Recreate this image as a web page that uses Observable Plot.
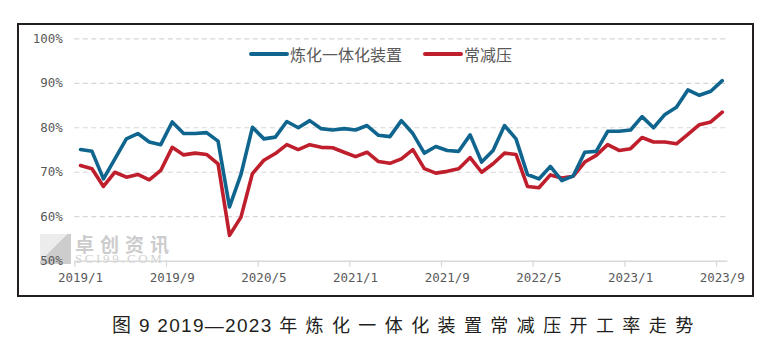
<!DOCTYPE html>
<html>
<head>
<meta charset="utf-8">
<script src="https://cdn.jsdelivr.net/npm/d3@7"></script>
<script src="https://cdn.jsdelivr.net/npm/@observablehq/plot@0.6"></script>
<style>
  body { margin: 0; background: #fff; }
  #wrap { position: relative; width: 767px; height: 355px; overflow: hidden; background:#fff; }
  #chart { position: absolute; left: 0; top: 0; }
  #frame { position: absolute; left: 17px; top: 23px; width: 737px; height: 274px; box-sizing: border-box; border: 2px solid #231f20; pointer-events: none; }
  #legend { position: absolute; top: 45px; left: 249px; display: flex; align-items: center; font-family: "Noto Sans CJK SC", sans-serif; font-size: 16px; color: #595959; line-height: 18px; }
  #legend .sw { display: inline-block; width: 40px; height: 4px; border-radius: 2px; margin-right: 1px; }
  #legend .item { display: flex; align-items: center; margin-right: 21px; }
  #wm { position: absolute; left: 40px; top: 232px; opacity: 0.75; pointer-events: none; }
  #wm .logo { position: absolute; left: 0; top: 2px; width: 31px; height: 30px; background: linear-gradient(135deg, #e6e6e6 0 45%, #bdbdbd 45% 100%); }
  #wm .cn { position: absolute; left: 35px; top: -2px; font-family: "Noto Sans CJK SC", sans-serif; font-weight: 700; font-size: 19px; letter-spacing: 6px; color: #bcbcbc; white-space: nowrap; }
  #wm .en { position: absolute; left: 35px; top: 19px; font-family: "Liberation Serif", serif; font-size: 13px; letter-spacing: 2.6px; color: #c4c4c4; white-space: nowrap; }
  #caption { position: absolute; left: 112px; top: 312px; font-family: "Liberation Sans", "Noto Sans CJK SC", sans-serif; font-size: 19px; color: #231f20; white-space: nowrap; line-height: 24px; }
  #caption .pre { letter-spacing: 1.3px; }
  #caption .cjk { letter-spacing: 8.4px; font-family: "Noto Sans CJK SC", sans-serif; font-size: 18px; }
</style>
</head>
<body>
<div id="wrap">
  <div id="wm"><div class="logo"></div><div class="cn">卓创资讯</div><div class="en">SCI99.COM</div></div>
  <div id="chart"></div>
  <div id="frame"></div>
  <div id="legend"></div>
  <div id="caption"></div>
</div>
<script>
const months = [
  "2019/1","2019/2","2019/3","2019/4","2019/5","2019/6","2019/7","2019/8","2019/9","2019/10","2019/11","2019/12",
  "2020/1","2020/2","2020/3","2020/4","2020/5","2020/6","2020/7","2020/8","2020/9","2020/10","2020/11","2020/12",
  "2021/1","2021/2","2021/3","2021/4","2021/5","2021/6","2021/7","2021/8","2021/9","2021/10","2021/11","2021/12",
  "2022/1","2022/2","2022/3","2022/4","2022/5","2022/6","2022/7","2022/8","2022/9","2022/10","2022/11","2022/12",
  "2023/1","2023/2","2023/3","2023/4","2023/5","2023/6","2023/7","2023/8","2023/9"
];
const seriesNames = ["炼化一体化装置", "常减压"];
const seriesColors = ["#10658f", "#bf1f2c"];
const integratedRate = [
  75.1, 74.7, 68.5, 73.0, 77.5, 78.7, 76.8, 76.2, 81.3, 78.7, 78.7, 78.9,
  77.0, 62.2, 69.5, 80.1, 77.5, 77.9, 81.4, 80.0, 81.6, 79.8, 79.5, 79.8,
  79.5, 80.5, 78.3, 78.0, 81.6, 78.7, 74.3, 75.8, 74.9, 74.7, 78.4, 72.3,
  74.9, 80.5, 77.5, 69.5, 68.5, 71.3, 68.1, 69.2, 74.5, 74.7, 79.2, 79.2,
  79.5, 82.5, 80.0, 83.0, 84.6, 88.5, 87.3, 88.2, 90.6
];
const atmVacRate = [
  71.5, 70.8, 66.8, 70.0, 68.9, 69.5, 68.3, 70.4, 75.6, 73.9, 74.3, 74.0,
  71.9, 55.8, 59.9, 69.7, 72.7, 74.2, 76.2, 75.1, 76.2, 75.6, 75.5, 74.5,
  73.5, 74.5, 72.4, 72.0, 73.0, 75.1, 70.8, 69.8, 70.2, 70.8, 73.3, 70.0,
  71.9, 74.3, 74.0, 66.8, 66.5, 69.4, 68.7, 69.1, 72.3, 73.8, 76.2, 74.9,
  75.3, 77.8, 76.8, 76.8, 76.4, 78.5, 80.7, 81.3, 83.5
];
const xTickLabels = ["2019/1","2019/9","2020/5","2021/1","2021/9","2022/5","2023/1","2023/9"];
const yTicks = [50, 60, 70, 80, 90, 100];
const gridTicks = [60, 70, 80, 90, 100];
const captionPrefix = "图 9 2019—2023 ";
const captionMain = "年炼化一体化装置常减压开工率走势";

const xTickIdx = xTickLabels.map(l => months.indexOf(l));
const blueData = integratedRate.map((v, i) => ({i, v}));
const redData = atmVacRate.map((v, i) => ({i, v}));
const mono = "'DejaVu Sans Mono', monospace";

const chart = Plot.plot({
  width: 767,
  height: 300,
  marginLeft: 74.3,
  marginRight: 39.5,
  marginTop: 38.3,
  marginBottom: 39.3,
  style: {background: "transparent", fontFamily: mono, fontSize: "12.5px", overflow: "visible"},
  x: {type: "linear", domain: [-0.5, months.length - 0.5]},
  y: {domain: [50, 100]},
  marks: [
    Plot.ruleY(gridTicks, {stroke: "#d6d6d6", strokeWidth: 1.2, strokeDasharray: "5,3.5"}),
    Plot.ruleY([yTicks[0]], {stroke: "#d9d9d9", strokeWidth: 1.5}),
    Plot.axisY({ticks: yTicks, tickSize: 0, tickPadding: 12, tickFormat: d => d + "%", fill: "#595959", label: null, fontFamily: mono}),
    Plot.axisX({ticks: xTickIdx.map(i => i - 0.5), tickSize: 6, tickFormat: () => "", stroke: "#d9d9d9", strokeWidth: 1.3, label: null}),
    Plot.axisX({ticks: xTickIdx, tickSize: 0, tickPadding: 12, tickFormat: i => months[i], fill: "#595959", label: null, fontFamily: mono}),
    Plot.line(redData, {x: "i", y: "v", stroke: seriesColors[1], strokeWidth: 3.6, strokeLinejoin: "round", strokeLinecap: "round"}),
    Plot.line(blueData, {x: "i", y: "v", stroke: seriesColors[0], strokeWidth: 3.6, strokeLinejoin: "round", strokeLinecap: "round"})
  ]
});
document.getElementById("chart").appendChild(chart);

const legend = document.getElementById("legend");
seriesNames.forEach((name, k) => {
  const item = document.createElement("div");
  item.className = "item";
  const sw = document.createElement("span");
  sw.className = "sw";
  sw.style.background = seriesColors[k];
  const t = document.createElement("span");
  t.textContent = name;
  item.appendChild(sw);
  item.appendChild(t);
  legend.appendChild(item);
});

const cap = document.getElementById("caption");
const p1 = document.createElement("span");
p1.className = "pre";
p1.textContent = captionPrefix;
const p2 = document.createElement("span");
p2.className = "cjk";
p2.textContent = captionMain;
cap.appendChild(p1);
cap.appendChild(p2);
</script>
</body>
</html>
